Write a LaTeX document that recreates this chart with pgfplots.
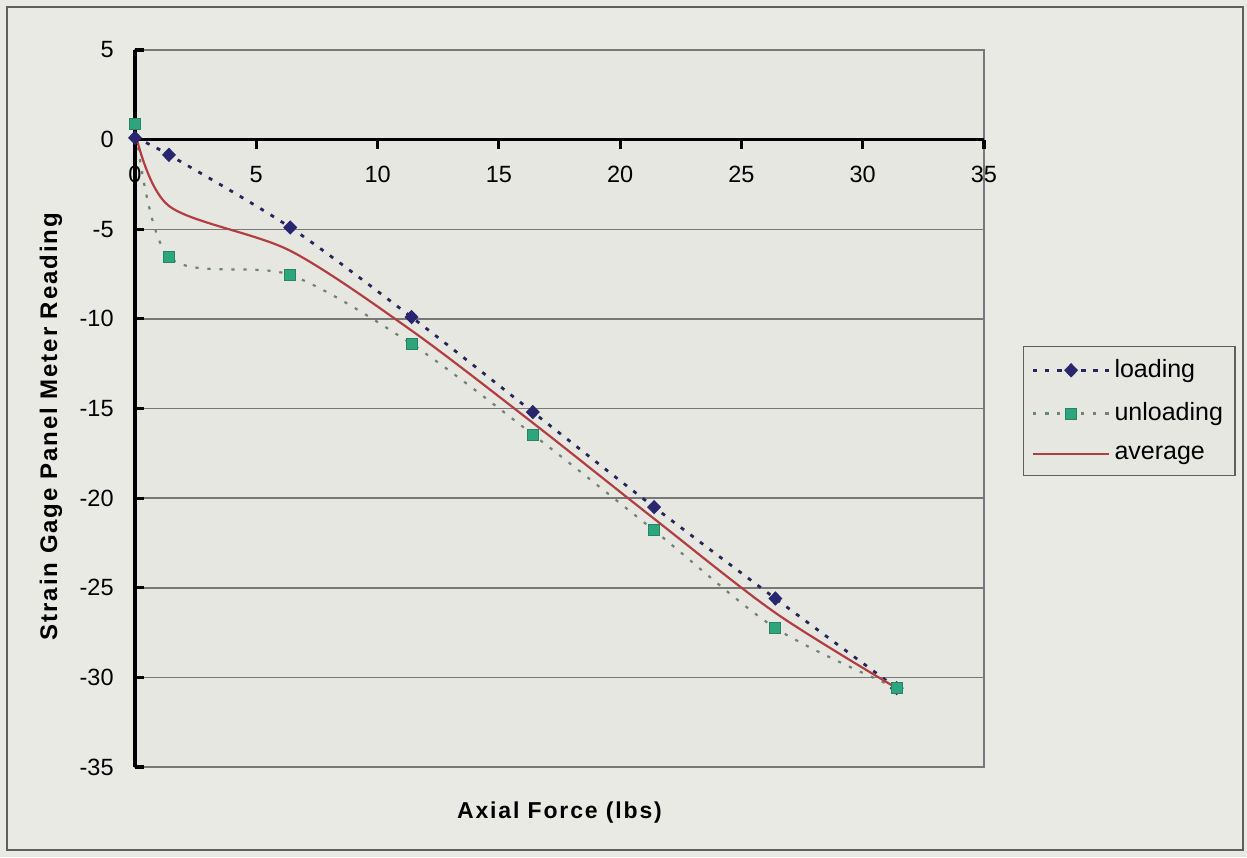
\documentclass[border=0pt]{standalone}
\usepackage{pgfplots}
\pgfplotsset{compat=1.18}
\usepackage{fontspec}
\setmainfont{Liberation Sans}
\definecolor{bg}{RGB}{233,234,228}
\definecolor{plotbg}{RGB}{230,231,225}
\definecolor{gridc}{RGB}{120,120,120}
\definecolor{framec}{RGB}{95,95,95}
\definecolor{loadc}{RGB}{38,38,92}
\definecolor{loadm}{RGB}{40,38,110}
\definecolor{unloadc}{RGB}{110,132,118}
\definecolor{unloadm}{RGB}{45,165,125}
\definecolor{avgc}{RGB}{178,62,66}
\begin{document}
\begin{tikzpicture}
\fill[bg] (-67.5pt,-45pt) rectangle (556pt,383.5pt);
\draw[framec, line width=1pt] (-64pt,-41.5pt) rectangle (554pt,380pt);
\begin{axis}[
  at={(0,0)}, anchor=south west,
  scale only axis, width=424.5pt, height=358.5pt,
  xmin=0, xmax=35, ymin=-35, ymax=5,
  axis x line=middle, axis y line=left,
  axis line style={-, line width=1.6pt, black},
  xtick={0,5,...,35}, ytick={-35,-30,...,5},
  hide obscured x ticks=false, hide obscured y ticks=false,
  tick align=outside,
  major tick length=4.75pt,
  major tick style={line width=1.6pt, black},
  ytick style={xshift=4.75pt},
  ymajorgrids, grid style={gridc, line width=0.75pt},
  axis background/.style={fill=plotbg, draw=gridc, line width=0.75pt},
  /pgf/number format/assume math mode=true,
  tick label style={font=\fontsize{11.75}{13}\selectfont},
  xticklabel style={anchor=north, yshift=-5.2pt},
  yticklabel style={anchor=east, xshift=-2.4pt},
  clip=false,
  every axis x label/.style={at={(axis description cs:0.5,-0.0725)}, anchor=base,
    font=\bfseries\fontsize{11.5}{13}\selectfont\addfontfeature{LetterSpace=8}},
  every axis y label/.style={at={(axis description cs:-0.0989,0.4749)}, anchor=center, rotate=90,
    font=\bfseries\fontsize{12}{14}\selectfont\addfontfeature{LetterSpace=8}},
  xlabel={Axial Force (lbs)},
  ylabel={Strain Gage Panel Meter Reading},
  legend style={at={(1.0459,0.5872)}, anchor=north west, fill=plotbg, draw=framec,
    line width=0.75pt, font=\fontsize{12.5}{14}\selectfont, inner xsep=4pt, inner ysep=4.5pt,
    row sep=7pt},
  legend cell align=left,
  legend image code/.code={\draw[mark repeat=2,mark phase=2,#1] plot coordinates {(0pt,0pt) (19pt,0pt) (38pt,0pt)};},
]
\addplot[loadc, line width=1.4pt, dash pattern=on 2pt off 4pt, smooth, tension=0.5,
  mark=diamond*, mark size=2.6pt, mark options={solid, fill=loadm, draw=loadm, xscale=1.3}]
  coordinates {(0,0.1) (1.4,-0.85) (6.4,-4.9) (11.4,-9.9) (16.4,-15.2) (21.4,-20.5) (26.4,-25.6) (31.4,-30.6)};
\addlegendentry{loading}
\addplot[unloadc, line width=1.1pt, dash pattern=on 1.6pt off 4.4pt, smooth, tension=0.5,
  mark=square*, mark size=2.75pt, mark options={solid, fill=unloadm, draw=unloadm!80!black, line width=0.4pt}]
  coordinates {(0,0.9) (1.4,-6.55) (6.4,-7.55) (11.4,-11.4) (16.4,-16.45) (21.4,-21.8) (26.4,-27.25) (31.4,-30.6)};
\addlegendentry{unloading}
\addplot[avgc, line width=1.1pt, smooth, tension=0.5, no marks]
  coordinates {(0,0.45) (1.4,-3.7) (6.4,-6.2) (11.4,-10.65) (16.4,-15.8) (21.4,-21.15) (26.4,-26.4) (31.4,-30.6)};
\addlegendentry{average}
\end{axis}
\end{tikzpicture}
\end{document}
